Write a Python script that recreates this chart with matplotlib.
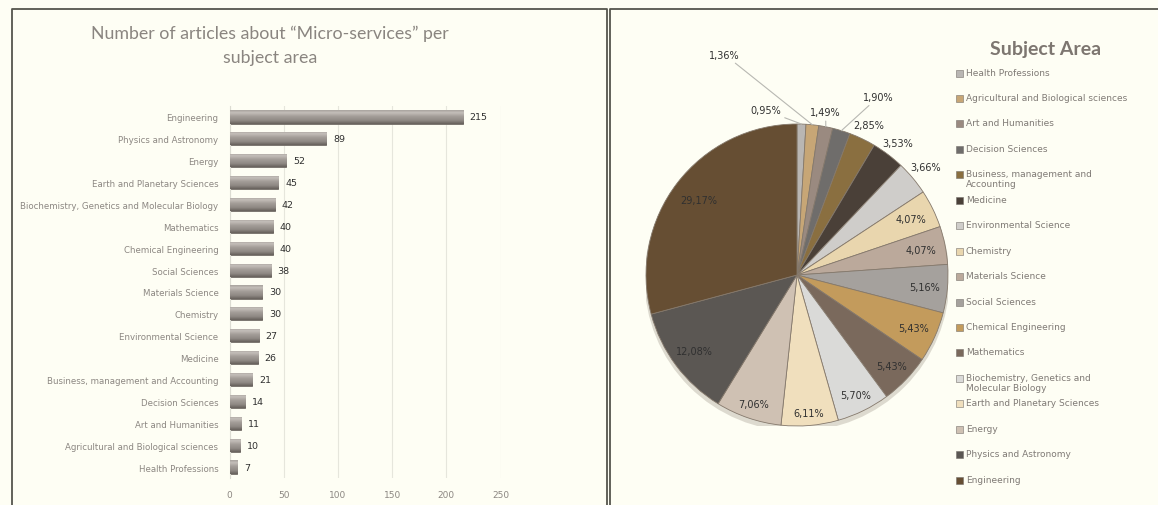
import numpy as np
import matplotlib
matplotlib.use("Agg")
import matplotlib.pyplot as plt
from matplotlib.colors import LinearSegmentedColormap
from matplotlib.lines import Line2D
from matplotlib.patches import Rectangle, Circle

# data (ascending, same order as the pie / legend)
areas = ["Health Professions", "Agricultural and Biological sciences", "Art and Humanities",
         "Decision Sciences", "Business, management and Accounting", "Medicine",
         "Environmental Science", "Chemistry", "Materials Science", "Social Sciences",
         "Chemical Engineering", "Mathematics", "Biochemistry, Genetics and Molecular Biology",
         "Earth and Planetary Sciences", "Energy", "Physics and Astronomy", "Engineering"]
articles = [7, 10, 11, 14, 21, 26, 27, 30, 30, 38, 40, 40, 42, 45, 52, 89, 215]
x_ticks = [0, 50, 100, 150, 200, 250]

slice_colors = ['#b9b6b3', '#c7a676', '#9a8a80', '#6f6d6b', '#8a6f40', '#4a4038',
                '#cfcdca', '#e9d6ae', '#bba99b', '#a5a19d', '#c39b5c', '#7a695c',
                '#dadad8', '#f0dfbd', '#cfc1b3', '#5b5753', '#664e33']

legend_names = {"Business, management and Accounting": "Business, management and\nAccounting",
                "Biochemistry, Genetics and Molecular Biology": "Biochemistry, Genetics and\nMolecular Biology"}

W, H = 1158, 506
bg = '#fefef4'
grey_txt = '#8c8782'


def fx(px):
    return px / W


def fy(py):
    return 1 - py / H


plt.rcParams['font.family'] = ['DejaVu Sans']
fig = plt.figure(figsize=(W / 100, H / 100), dpi=100, facecolor=bg)

# panel frames
fig.add_artist(Line2D([fx(12), fx(12), fx(607), fx(607)], [0, fy(10), fy(10), 0],
                      color='#55554d', lw=1.3))
fig.add_artist(Line2D([fx(610), fx(610), 1], [0, fy(10), fy(10)], color='#55554d', lw=1.3))

# ---- bar chart ----
ax = fig.add_axes([fx(229.5), fy(479), (500.5 - 229.5) / W, (479 - 107) / H])
ax.set_facecolor('none')
y = np.arange(len(areas))
bars = ax.barh(y, articles, height=0.6, color='#a29c97', edgecolor='#6f6964', lw=0.6, zorder=2)
grad = LinearSegmentedColormap.from_list(
    'bar', [(0, '#66605b'), (0.25, '#8f8984'), (0.55, '#a39d98'), (0.82, '#c4bfba'), (1, '#a8a29d')])
g = np.linspace(0, 1, 64).reshape(-1, 1)
for b in bars:
    x0, y0 = b.get_x(), b.get_y()
    im = ax.imshow(g, cmap=grad, origin='lower', aspect='auto', interpolation='bilinear',
                   extent=(x0, x0 + b.get_width(), y0, y0 + b.get_height()), zorder=3)
    im.set_clip_path(b)
for i, v in enumerate(articles):
    ax.annotate(str(v), (v, i), xytext=(5, 0), textcoords='offset points',
                va='center', ha='left', fontsize=6.8, color='#303030')

ax.set_xlim(0, 250)
ax.set_ylim(-0.5, len(areas) - 0.5)
ax.set_xticks(x_ticks)
ax.set_yticks(y, areas)
ax.tick_params(axis='y', length=0, pad=8, labelsize=6.2, labelcolor=grey_txt)
ax.tick_params(axis='x', length=0, pad=9, labelsize=6.5, labelcolor=grey_txt)
ax.grid(axis='x', color='#e6e6dc', lw=0.8, zorder=0)
ax.set_axisbelow(True)
for s in ['top', 'right', 'bottom']:
    ax.spines[s].set_visible(False)
ax.spines['left'].set_color('#dcdcd2')

fig.text(fx(270), fy(46), "Number of articles about “Micro-services” per\nsubject area",
         ha='center', va='center', fontsize=12.8, color='#8a8580', linespacing=1.6,
         family=['Lato', 'DejaVu Sans'])

# ---- pie chart ----
R = 151
pax = fig.add_axes([fx(797 - R), fy(276 + R), 2 * R / W, 2 * R / H])
pax.add_patch(Circle((0.0, -0.025), 1.01, color='#a0988a', alpha=0.35, zorder=0, lw=0))
wedges, _ = pax.pie(articles, colors=slice_colors, startangle=90, counterclock=False,
                    wedgeprops=dict(edgecolor='#85796c', linewidth=0.6))
pax.set_xlim(-1, 1)
pax.set_ylim(-1, 1)
pax.set_aspect('equal')

pct = 100 * np.array(articles) / sum(articles)
label_r = [None, None, None, None, 1.10, 1.10, 1.11, 0.84, 0.84, 0.85,
           0.845, 0.87, 0.885, 0.92, 0.90, 0.845, 0.82]
leader_xy = {0: (-0.21, 1.09), 1: (-0.48, 1.46), 2: (0.19, 1.08), 3: (0.54, 1.18)}
for i, w in enumerate(wedges):
    txt = f"{pct[i]:.2f}%".replace('.', ',')
    ang = np.deg2rad((w.theta1 + w.theta2) / 2)
    if i in leader_xy:
        pax.annotate(txt, (np.cos(ang), np.sin(ang)), xytext=leader_xy[i],
                     ha='center', va='center', fontsize=7, color='#303030',
                     arrowprops=dict(arrowstyle='-', color='#b8b8b2', lw=0.8, shrinkA=1, shrinkB=0),
                     annotation_clip=False)
    else:
        r = label_r[i]
        pax.text(r * np.cos(ang), r * np.sin(ang), txt, ha='center', va='center',
                 fontsize=7, color='#303030', clip_on=False)

# legend
fig.text(fx(1046), fy(50), "Subject Area", ha='center', va='center', fontsize=14,
         fontweight='bold', color='#7d7670', family=['Lato', 'DejaVu Sans'])
for i, (name, c) in enumerate(zip(areas, slice_colors)):
    ry = 74 + i * 25.45
    fig.add_artist(Rectangle((fx(956), fy(ry + 3.5)), 7 / W, 7 / H, facecolor=c,
                             edgecolor='#77726d', lw=0.4))
    fig.text(fx(966), fy(ry - 5.5), legend_names.get(name, name), ha='left', va='top',
             fontsize=6.5, color='#7f7a75', linespacing=1.15)

fig.savefig('out.png', dpi=100, facecolor=bg)
